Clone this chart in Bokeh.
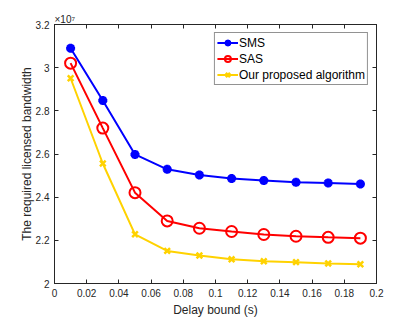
from bokeh.plotting import figure
from bokeh.models import LinearAxis, FixedTicker, Range1d, Legend, LegendItem, Title
from bokeh.embed import file_html
from bokeh.resources import INLINE

delay = [0.01, 0.03, 0.05, 0.07, 0.09, 0.11, 0.13, 0.15, 0.17, 0.19]
sms = [3.090, 2.848, 2.598, 2.529, 2.503, 2.486, 2.477, 2.469, 2.466, 2.461]
sas = [3.021, 2.720, 2.421, 2.290, 2.256, 2.241, 2.227, 2.219, 2.214, 2.210]
ours = [2.951, 2.556, 2.228, 2.151, 2.130, 2.112, 2.103, 2.099, 2.093, 2.089]

x_ticks = [0, 0.02, 0.04, 0.06, 0.08, 0.1, 0.12, 0.14, 0.16, 0.18, 0.2]
x_tick_labels = ["0", "0.02", "0.04", "0.06", "0.08", "0.1", "0.12", "0.14", "0.16", "0.18", "0.2"]
y_ticks = [2, 2.2, 2.4, 2.6, 2.8, 3, 3.2]
y_tick_labels = ["2", "2.2", "2.4", "2.6", "2.8", "3", "3.2"]

FONT = "Liberation Sans"
AX = "#262626"

p = figure(frame_width=322, frame_height=259,
           output_backend="svg", toolbar_location=None,
           x_range=Range1d(0, 0.2), y_range=Range1d(2, 3.2),
           min_border_left=54, min_border_top=24, min_border_right=37, min_border_bottom=34)
p.xgrid.visible = False
p.ygrid.visible = False
p.outline_line_color = AX
p.outline_line_width = 1
p.background_fill_color = "white"

def style(ax, show_labels=True):
    ax.axis_line_color = AX
    ax.major_tick_line_color = AX
    ax.major_tick_in = 4
    ax.major_tick_out = 0
    ax.minor_tick_line_color = None
    ax.major_label_text_font = FONT
    ax.major_label_text_font_size = "10px"
    ax.major_label_text_color = AX if show_labels else None
    ax.axis_label_text_font = FONT
    ax.axis_label_text_font_size = "12px"
    ax.axis_label_text_font_style = "normal"
    ax.axis_label_text_color = AX

p.title = Title(text="×10⁷", text_font=FONT, text_font_size="10px",
                text_color=AX, text_font_style="normal", align="left",
                vertical_align="bottom", offset=0, standoff=0)

top = LinearAxis()
right = LinearAxis()
p.add_layout(top, "above")
p.add_layout(right, "right")

for ax in p.below:
    style(ax)
    ax.ticker = FixedTicker(ticks=x_ticks)
    ax.major_label_overrides = dict(zip(x_ticks, x_tick_labels))
    ax.major_label_standoff = 5
    ax.axis_label = "Delay bound (s)"
    ax.axis_label_standoff = 3
for ax in p.left:
    style(ax)
    ax.ticker = FixedTicker(ticks=y_ticks)
    ax.major_label_overrides = dict(zip(y_ticks, y_tick_labels))
    ax.major_label_standoff = 5
    ax.axis_label = "The required licensed bandwidth"
    ax.axis_label_standoff = -1
style(top, False)
top.ticker = FixedTicker(ticks=x_ticks)
top.major_label_text_font_size = "1px"
top.major_label_standoff = 0
style(right, False)
right.ticker = FixedTicker(ticks=y_ticks)
right.major_label_text_font_size = "1px"
right.major_label_standoff = 0

c1, c2, c3 = "#0000FF", "#FF0000", "#FFD200"
l1 = p.line(delay, sms, line_color=c1, line_width=2)
m1 = p.scatter(delay, sms, marker="asterisk", size=9, line_color=c1, line_width=3)
m1b = p.scatter(delay, sms, marker="circle", size=5, fill_color=c1, line_color=c1)
l2 = p.line(delay, sas, line_color=c2, line_width=2)
m2 = p.scatter(delay, sas, marker="circle", size=11, line_color=c2, fill_color=None, line_width=2)
l3 = p.line(delay, ours, line_color=c3, line_width=2)
m3 = p.scatter(delay, ours, marker="x", size=8, line_color=c3, line_width=2.5)

legend = Legend(items=[
    LegendItem(label="SMS", renderers=[l1, m1, m1b]),
    LegendItem(label="SAS", renderers=[l2, m2]),
    LegendItem(label="Our proposed algorithm", renderers=[l3, m3]),
], location="top_right")
legend.label_text_font = FONT
legend.label_text_font_size = "12px"
legend.label_text_color = "black"
legend.border_line_color = AX
legend.border_line_width = 1
legend.padding = 2
legend.spacing = 1
legend.margin = 8
legend.label_height = 15
legend.glyph_height = 15
legend.glyph_width = 21
legend.label_standoff = 1
legend.background_fill_alpha = 1
p.add_layout(legend, "center")

open("out.html", "w").write(file_html(p, INLINE))
